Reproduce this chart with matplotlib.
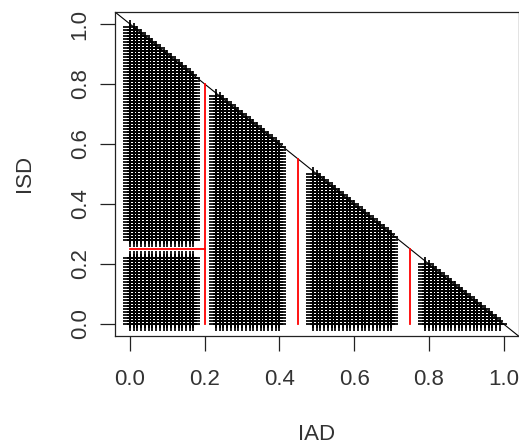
import numpy as np
import matplotlib
matplotlib.use('Agg')
import matplotlib.pyplot as plt

plt.rcParams['font.family'] = ['Liberation Sans', 'DejaVu Sans']

# grid of candidate points (IAD, ISD) inside the triangle IAD + ISD <= 1
grid_step = 0.01

# rectangular blocks of points kept after removing the band round each split
block_x_min = [0.00, 0.00, 0.23, 0.49, 0.79]
block_x_max = [0.17, 0.17, 0.40, 0.70, 1.00]
block_y_min = [0.00, 0.28, 0.00, 0.00, 0.00]
block_y_max = [0.22, 1.00, 1.00, 1.00, 1.00]

# partition lines (red)
split_x = [0.20, 0.45, 0.75]
split_x_top = [0.80, 0.55, 0.25]
split_y = 0.25
split_y_x_range = [0.0, 0.20]

ticks = [0.0, 0.2, 0.4, 0.6, 0.8, 1.0]
tick_labels = ['0.0', '0.2', '0.4', '0.6', '0.8', '1.0']

# build the point set
pts_x = []
pts_y = []
vals = np.round(np.arange(0, 1 + grid_step / 2, grid_step), 2)
for x0, x1, y0, y1 in zip(block_x_min, block_x_max, block_y_min, block_y_max):
    for xv in vals[(vals >= x0) & (vals <= x1)]:
        for yv in vals[(vals >= y0) & (vals <= y1)]:
            if xv + yv <= 0.99 + 1e-9:
                pts_x.append(xv)
                pts_y.append(yv)

W, H = 519, 446
fig = plt.figure(figsize=(W / 100, H / 100), dpi=100)
ax = fig.add_axes([115 / W, (H - 336) / H, 403.5 / W, 324 / H])

ax.plot(pts_x, pts_y, '+', color='black', ms=10, mew=1.25, clip_on=True)

# diagonal boundary
ax.axline((0, 1), slope=-1, color='black', lw=0.8)

# red partition lines
for sx, top in zip(split_x, split_x_top):
    ax.plot([sx, sx], [0, top], color='#ff0000', lw=1.3)
ax.plot(split_y_x_range, [split_y, split_y], color='#ff0000', lw=1.3)

ax.set_xlim(-0.04, 1.04)
ax.set_ylim(-0.04, 1.04)

ax.set_xticks(ticks)
ax.set_xticklabels(tick_labels)
ax.set_yticks(ticks)
ax.set_yticklabels(tick_labels, rotation=90, va='center')

for s in ax.spines.values():
    s.set_linewidth(0.9)
    s.set_color('#222222')

ax.tick_params(axis='both', direction='out', length=10.5, width=0.9,
               color='#222222', labelsize=16, labelcolor='#333333')
ax.tick_params(axis='x', pad=13.5)
ax.tick_params(axis='y', pad=7)

fig.text(317 / W, 1 - 435 / H, 'IAD', ha='center', va='center',
         fontsize=16, color='#333333')
fig.text(24 / W, 1 - 173 / H, 'ISD', ha='center', va='center',
         rotation=90, fontsize=16, color='#333333')

fig.savefig('out.png', dpi=100)
